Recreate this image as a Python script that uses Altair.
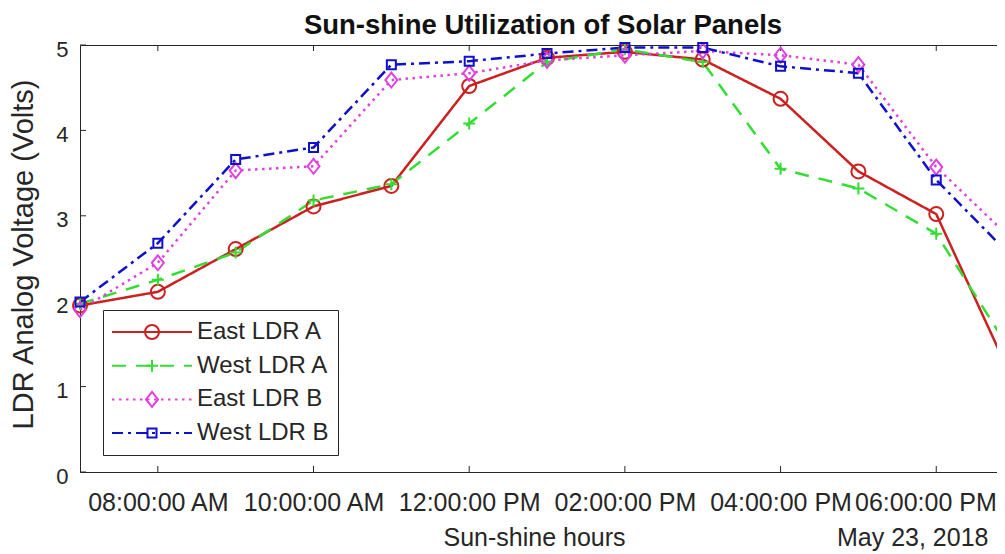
import altair as alt
import pandas as pd

FONT = "Liberation Sans"
AX = "#262626"

# ---- data ----
date = "2018-05-23"
names = ["East LDR A", "West LDR A", "East LDR B", "West LDR B"]
times = ["07:00", "08:00", "09:00", "10:00", "11:00", "12:00", "13:00",
         "14:00", "15:00", "16:00", "17:00", "18:00", "18:53"]
east_a = [1.95, 2.11, 2.61, 3.11, 3.35, 4.52, 4.85, 4.92, 4.83, 4.37, 3.52, 3.02, 1.27]
west_a = [1.97, 2.25, 2.57, 3.18, 3.37, 4.08, 4.80, 4.95, 4.80, 3.55, 3.32, 2.79, 1.52]
east_b = [1.90, 2.45, 3.53, 3.58, 4.59, 4.67, 4.82, 4.88, 4.93, 4.88, 4.77, 3.57, 2.80]
west_b = [1.99, 2.68, 3.66, 3.80, 4.77, 4.81, 4.90, 4.97, 4.97, 4.75, 4.67, 3.42, 2.60]
x_tick_hours = [8, 10, 12, 14, 16, 18]
y_ticks = [0, 1, 2, 3, 4, 5]

# ---- styles ----
colors = ["#cc2020", "#33dd33", "#e040e0", "#1010cc"]
dashes = [[1, 0], [14, 10], [2.5, 4.5], [11, 5, 3, 5]]
CIRCLE = "M0.583,0A0.583,0.583,0,1,1,-0.583,0A0.583,0.583,0,1,1,0.583,0Z"
PLUS = "M-0.5,0H0.5M0,-0.5V0.5"
DIAMOND = "M0,-0.625L0.5,0L0,0.625L-0.5,0Z"
SQUARE = "M-0.375,-0.375H0.375V0.375H-0.375Z"
LINE = "M-3.333,0H3.333"
paths = [CIRCLE, PLUS, DIAMOND, SQUARE]

W, H = 925, 427

rows = []
for name, vals in zip(names, [east_a, west_a, east_b, west_b]):
    for t, v in zip(times, vals):
        rows.append({"time": f"{date}T{t}:00", "value": v, "series": name, "series2": name + " "})
df = pd.DataFrame(rows)
names2 = [n + " " for n in names]

xt_df = pd.DataFrame({"t": [f"{date}T{h:02d}:00:00" for h in x_tick_hours]})
yt_df = pd.DataFrame({"v": y_ticks})


def dt(h, m=0):
    return alt.DateTime(year=2018, month=5, date=23, hours=h, minutes=m)


xscale = alt.Scale(domain=[dt(7), dt(18, 53)], nice=False)
yscale = alt.Scale(domain=[0, 5], nice=False, zero=False)

x_axis_main = alt.Axis(
    orient="bottom", values=[dt(h) for h in x_tick_hours], format="%I:%M:%S %p",
    labelFontSize=25, labelColor=AX, labelPadding=18, labelFlush=72, labelFlushOffset=60,
    labelOverlap=False,
    ticks=False, tickSize=0, domain=True, domainColor=AX, domainWidth=1, grid=False,
    title="Sun-shine hours", titleFontSize=25, titleFontWeight="normal", titleColor=AX,
    titleX=454, titleY=73, titleBaseline="alphabetic", titleAlign="center",
)
y_axis = alt.Axis(
    orient="left", values=y_ticks, format="d",
    labelFontSize=22, labelColor=AX, labelPadding=12, labelOffset=4, labelFlush=False,
    ticks=False, tickSize=0, domain=True, domainColor=AX, domainWidth=1, grid=False,
    title="LDR Analog Voltage (Volts)", titleFontSize=29, titleFontWeight="normal",
    titleColor=AX, titleX=-42, titleY=209, titleAngle=270, titleBaseline="bottom",
    titleAlign="center",
)
top_axis = alt.Axis(
    orient="top", labels=False, ticks=False, tickSize=0, domain=True,
    domainColor=AX, domainWidth=1, grid=False,
    title="Sun-shine Utilization of Solar Panels", titleFontSize=27.5, titleFontWeight="bold",
    titleColor="#111111", titleX=462.5, titleY=-12, titleBaseline="alphabetic",
    titleAlign="center",
)
date_axis = alt.Axis(
    orient="bottom", labels=False, ticks=False, tickSize=0, domain=False, grid=False,
    title="May 23, 2018", titleFontSize=25, titleFontWeight="normal", titleColor=AX,
    titleX=908, titleY=73, titleAlign="right", titleBaseline="alphabetic",
)

common_legend = dict(orient="none", legendX=23, legendY=265, title=None,
                     symbolSize=576, symbolStrokeWidth=2, symbolOffset=27,
                     labelOffset=32, labelFontSize=24, labelFont=FONT,
                     padding=9, rowPadding=8.7, symbolFillColor="transparent")
line_legend = alt.Legend(symbolType=LINE, labelColor=AX, strokeColor=AX, **common_legend)
marker_legend = alt.Legend(labelOpacity=0, **common_legend)

base = alt.Chart(df)
lines = base.mark_line(strokeWidth=2.5, clip=True).encode(
    x=alt.X("time:T", scale=xscale, axis=x_axis_main),
    y=alt.Y("value:Q", scale=yscale, axis=y_axis),
    color=alt.Color("series:N", scale=alt.Scale(domain=names, range=colors), legend=line_legend),
    strokeDash=alt.StrokeDash("series:N", scale=alt.Scale(domain=names, range=dashes),
                              legend=line_legend),
)
points = base.mark_point(filled=False, size=576, strokeWidth=2, opacity=1).encode(
    x=alt.X("time:T", scale=xscale, axis=None),
    y=alt.Y("value:Q", scale=yscale, axis=None),
    stroke=alt.Stroke("series2:N", scale=alt.Scale(domain=names2, range=colors),
                      legend=marker_legend),
    shape=alt.Shape("series2:N", scale=alt.Scale(domain=names2, range=paths),
                    legend=marker_legend),
)

tick_style = dict(color=AX, strokeWidth=1)
bottom_ticks = alt.Chart(xt_df).mark_rule(**tick_style).encode(
    x=alt.X("t:T", scale=xscale, axis=date_axis), y=alt.value(H), y2=alt.value(H - 6))
top_ticks = alt.Chart(xt_df).mark_rule(**tick_style).encode(
    x=alt.X("t:T", scale=xscale, axis=top_axis), y=alt.value(0), y2=alt.value(6))
left_ticks = alt.Chart(yt_df).mark_rule(**tick_style).encode(
    y=alt.Y("v:Q", scale=yscale, axis=None), x=alt.value(0), x2=alt.value(6))
right_ticks = alt.Chart(yt_df).mark_rule(**tick_style).encode(
    y=alt.Y("v:Q", scale=yscale, axis=None), x=alt.value(W - 6), x2=alt.value(W))

chart = alt.layer(
    bottom_ticks, top_ticks, left_ticks, right_ticks, lines, points
).resolve_axis(
    x="independent", y="independent"
).properties(
    width=W, height=H,
    autosize=alt.AutoSizeParams(type="none"),
    padding={"left": 72, "top": 37, "right": -8, "bottom": 82},
).configure_view(
    strokeWidth=0
).configure_axis(
    labelFont=FONT, titleFont=FONT
).configure_legend(
    labelFont=FONT
)

chart.save("out.html", embed_options={"renderer": "svg", "actions": False})
